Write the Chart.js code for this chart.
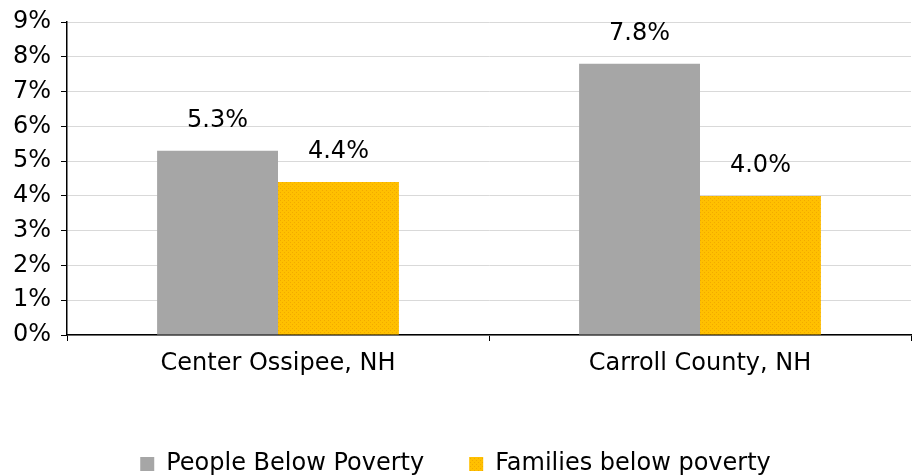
<!DOCTYPE html>
<html>
<head>
<meta charset="utf-8">
<script src="https://cdn.jsdelivr.net/npm/chart.js@4/dist/chart.umd.min.js"></script>
<style>
  html, body { margin: 0; padding: 0; background: #fff; }
  #wrap { width: 917px; height: 475px; }
</style>
</head>
<body>
<div id="wrap"><canvas id="poverty" width="917" height="475"></canvas></div>
<script>
var categories = ['Center Ossipee, NH', 'Carroll County, NH'];
var peopleBelow = [5.3, 7.8];
var familiesBelow = [4.4, 4.0];
var seriesNames = ['People Below Poverty', 'Families below poverty'];

// gold dotted fill like the original
const makeDots = () => {
    var c = document.createElement('canvas');
    c.width = 4; c.height = 4;
    var g = c.getContext('2d');
    g.fillStyle = '#FFC000';
    g.fillRect(0, 0, 4, 4);
    g.fillStyle = '#F2A900';
    g.fillRect(0, 0, 1, 1);
    g.fillRect(2, 2, 1, 1);
    return g.createPattern(c, 'repeat');
};

var valueLabels = {
    id: 'valueLabels',
    afterDatasetsDraw(chart) {
        var ctx = chart.ctx;
        ctx.save();
        ctx.font = '24px "DejaVu Sans"';
        ctx.fillStyle = '#000';
        ctx.textAlign = 'center';
        ctx.textBaseline = 'middle';
        chart.data.datasets.forEach((ds, i) => {
            chart.getDatasetMeta(i).data.forEach((bar, j) => {
                ctx.fillText(ds.data[j].toFixed(1) + '%', bar.x, bar.y - 30);
            });
        });
        ctx.restore();
    }
};

var ctx1 = document.getElementById('poverty');
var chart1 = new Chart(ctx1, {
    type: 'bar',
    data: {
        labels: categories,
        datasets: [
            {
                label: seriesNames[0],
                data: peopleBelow,
                backgroundColor: '#A6A6A6'
            },
            {
                label: seriesNames[1],
                data: familiesBelow,
                backgroundColor: makeDots()
            }
        ]
    },
    options: {
        responsive: false,
        animation: { duration: 0 },
        layout: { padding: { left: 0, right: 6, top: 10, bottom: -11 } },
        datasets: {
            bar: { barPercentage: 1, categoryPercentage: 0.573 }
        },
        plugins: {
            legend: {
                position: 'bottom',
                labels: {
                    boxWidth: 14,
                    boxHeight: 14,
                    padding: 45,
                    color: '#000',
                    font: { family: 'DejaVu Sans', size: 24 }
                }
            },
            tooltip: { enabled: false }
        },
        scales: {
            x: {
                grid: {
                    display: true,
                    drawOnChartArea: false,
                    offset: true,
                    tickLength: 6,
                    tickColor: '#000'
                },
                border: { color: '#000', width: 1.5 },
                ticks: {
                    color: '#000',
                    padding: 8,
                    font: { family: 'DejaVu Sans', size: 24 }
                },
                afterFit: (s) => { s.height = 72; }
            },
            y: {
                min: 0,
                max: 9,
                grid: {
                    color: '#D9D9D9',
                    tickLength: 6,
                    tickColor: '#000'
                },
                border: { color: '#000', width: 1.5 },
                ticks: {
                    stepSize: 1,
                    color: '#000',
                    padding: 10,
                    font: { family: 'DejaVu Sans', size: 24, lineHeight: 1.0 },
                    callback: (v) => v + '%'
                },
                afterFit: (s) => { s.width = 67; }
            }
        }
    },
    plugins: [valueLabels]
});
</script>
</body>
</html>
